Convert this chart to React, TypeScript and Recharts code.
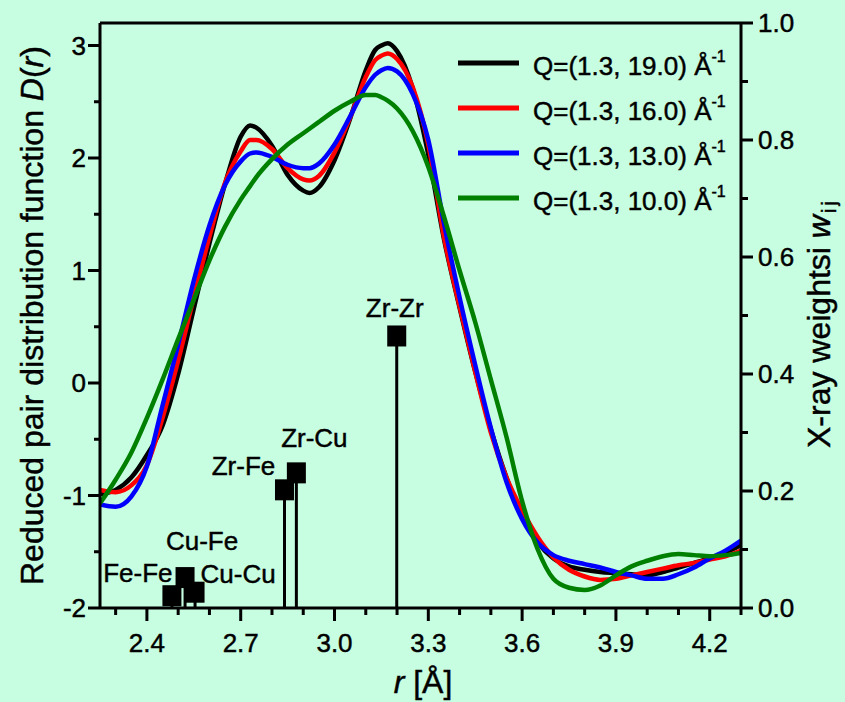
import React from 'react';
import { ComposedChart, Line, Scatter, XAxis, YAxis, ReferenceLine, ErrorBar, Legend } from 'recharts';

// ---------- data ----------
const rValues = [2.25, 2.30, 2.35, 2.40, 2.45, 2.50, 2.55, 2.60, 2.65, 2.70, 2.73, 2.75, 2.80, 2.85, 2.90, 2.92, 2.95, 3.00, 3.05, 3.10, 3.13, 3.15, 3.17, 3.20, 3.25, 3.30, 3.35, 3.40, 3.45, 3.50, 3.55, 3.60, 3.65, 3.70, 3.75, 3.80, 3.85, 3.90, 3.95, 4.00, 4.05, 4.10, 4.15, 4.20, 4.25, 4.30];

const dQ19 = [-0.99, -0.95, -0.84, -0.64, -0.38, 0.08, 0.66, 1.24, 1.77, 2.19, 2.29, 2.27, 2.11, 1.85, 1.71, 1.69, 1.74, 1.98, 2.35, 2.78, 2.96, 3.00, 3.02, 2.95, 2.62, 2.03, 1.28, 0.67, 0.10, -0.41, -0.84, -1.19, -1.42, -1.56, -1.63, -1.66, -1.68, -1.69, -1.70, -1.71, -1.68, -1.64, -1.60, -1.56, -1.51, -1.44];
const dQ16 = [-0.95, -0.97, -0.91, -0.73, -0.31, 0.20, 0.76, 1.30, 1.78, 2.06, 2.16, 2.16, 2.08, 1.91, 1.81, 1.80, 1.84, 2.05, 2.36, 2.72, 2.87, 2.91, 2.93, 2.88, 2.63, 2.12, 1.30, 0.68, 0.10, -0.44, -0.84, -1.13, -1.37, -1.55, -1.66, -1.72, -1.75, -1.74, -1.71, -1.68, -1.65, -1.62, -1.60, -1.57, -1.54, -1.49];
const dQ13 = [-1.08, -1.10, -1.01, -0.74, -0.20, 0.34, 0.91, 1.40, 1.76, 1.97, 2.04, 2.05, 2.01, 1.94, 1.91, 1.91, 1.95, 2.12, 2.37, 2.63, 2.74, 2.78, 2.80, 2.77, 2.57, 2.16, 1.42, 0.76, 0.16, -0.40, -0.88, -1.21, -1.42, -1.53, -1.58, -1.61, -1.64, -1.68, -1.71, -1.74, -1.74, -1.70, -1.64, -1.56, -1.49, -1.40];
const dQ10 = [-1.07, -0.86, -0.62, -0.31, 0.03, 0.39, 0.74, 1.09, 1.39, 1.63, 1.75, 1.83, 1.99, 2.12, 2.22, 2.26, 2.32, 2.42, 2.50, 2.56, 2.56, 2.54, 2.51, 2.44, 2.24, 1.92, 1.48, 1.00, 0.54, 0.03, -0.48, -1.05, -1.48, -1.74, -1.82, -1.84, -1.80, -1.71, -1.63, -1.58, -1.54, -1.52, -1.53, -1.54, -1.53, -1.51];

const seriesKeys = ['q19', 'q16', 'q13', 'q10'];
const seriesLabels = ['Q=(1.3, 19.0) Å', 'Q=(1.3, 16.0) Å', 'Q=(1.3, 13.0) Å', 'Q=(1.3, 10.0) Å'];
const seriesColors = ['#000000', '#FF0000', '#0000FF', '#008000'];

const pairNames = ['Fe-Fe', 'Cu-Fe', 'Cu-Cu', 'Zr-Fe', 'Zr-Cu', 'Zr-Zr'];
const pairR = [2.48, 2.522, 2.554, 2.84, 2.878, 3.199];
const pairW = [0.021, 0.052, 0.027, 0.202, 0.231, 0.465];

const xMajorTicks = [2.4, 2.7, 3.0, 3.3, 3.6, 3.9, 4.2];
const xMinorTicks = [2.3, 2.5, 2.6, 2.8, 2.9, 3.1, 3.2, 3.4, 3.5, 3.7, 3.8, 4.0, 4.1, 4.3];
const yLeftMajorTicks = [-2, -1, 0, 1, 2, 3];
const yLeftMinorTicks = [-1.5, -0.5, 0.5, 1.5, 2.5];
const yRightMajorTicks = [0, 0.2, 0.4, 0.6, 0.8, 1.0];
const yRightMinorTicks = [0.1, 0.3, 0.5, 0.7, 0.9];

// ---------- derived tables ----------
const curveData = rValues.map((r, i) => ({ r, q19: dQ19[i], q16: dQ16[i], q13: dQ13[i], q10: dQ10[i] }));
const pairData = pairNames.map((name, i) => ({ name, r: pairR[i], w: pairW[i], err: [pairW[i], 0] }));

// ---------- styling ----------
const FONT = '"Liberation Sans", Arial, Helvetica, sans-serif';
const BG = '#C7FDE1';
const TXT = { fontFamily: FONT, fill: '#000', stroke: '#000', strokeWidth: 0.45 };
const labelOffsets: Record<string, { dx: number; dy: number }> = {
  'Fe-Fe': { dx: -34, dy: -14 },
  'Cu-Fe': { dx: 17, dy: -28 },
  'Cu-Cu': { dx: 43, dy: -9 },
  'Zr-Fe': { dx: -41, dy: -15 },
  'Zr-Cu': { dx: 18, dy: -26 },
  'Zr-Zr': { dx: -2, dy: -19 },
};

const isIn = (arr: number[], v: number) => arr.some((a) => Math.abs(a - v) < 1e-6);

const XTick = (props: any) => {
  const { x, y, payload } = props;
  const v = payload.value;
  const major = isIn(xMajorTicks, v);
  return (
    <g>
      <line x1={x} x2={x} y1={y} y2={y + (major ? 13 : 7)} stroke="#000" strokeWidth={3} />
      {major && (
        <text x={x} y={y + 44} textAnchor="middle" fontSize={26} {...TXT}>
          {v.toFixed(1)}
        </text>
      )}
    </g>
  );
};

const YLeftTick = (props: any) => {
  const { x, y, payload } = props;
  const v = payload.value;
  const major = isIn(yLeftMajorTicks, v);
  return (
    <g>
      <line x1={x} x2={x - (major ? 12 : 6)} y1={y} y2={y} stroke="#000" strokeWidth={3} />
      {major && (
        <text x={x - 14} y={y + 9} textAnchor="end" fontSize={26} {...TXT}>
          {String(Math.round(v))}
        </text>
      )}
    </g>
  );
};

const YRightTick = (props: any) => {
  const { x, y, payload } = props;
  const v = payload.value;
  const major = isIn(yRightMajorTicks, v);
  return (
    <g>
      <line x1={x} x2={x + (major ? 12 : 7)} y1={y} y2={y} stroke="#000" strokeWidth={3} />
      {major && (
        <text x={x + 17} y={y + 9} textAnchor="start" fontSize={26} {...TXT}>
          {v.toFixed(1)}
        </text>
      )}
    </g>
  );
};

const PairShape = (props: any) => {
  const { cx, cy, payload } = props;
  const off = labelOffsets[payload.name] || { dx: 0, dy: -20 };
  return (
    <g>
      <rect x={cx - 9.5} y={cy - 10.5} width={19} height={21} fill="#000" />
      <text x={cx + off.dx} y={cy + off.dy} textAnchor="middle" fontSize={26} {...TXT}>
        {payload.name}
      </text>
    </g>
  );
};

const renderLegend = () => (
  <svg width={330} height={190} style={{ display: 'block' }}>
    {seriesLabels.map((lab, i) => {
      const y = 23 + i * 45;
      return (
        <g key={lab}>
          <line x1={18} x2={79} y1={y} y2={y} stroke={seriesColors[i]} strokeWidth={5} />
          <text x={93} y={y + 12} fontSize={26} {...TXT}>
            {lab}
            <tspan fontSize={16} dy={-13}>-1</tspan>
          </text>
        </g>
      );
    })}
  </svg>
);

const XTitle = () => (
  <text x={423} y={693} textAnchor="middle" fontSize={32} {...TXT}>
    <tspan fontStyle="italic">r</tspan> [Å]
  </text>
);

const YLeftTitle = () => (
  <text x={43} y={585} transform="rotate(-90 43 585)" textAnchor="start" fontSize={32} {...TXT}>
    Reduced pair distribution function <tspan fontStyle="italic">D</tspan>(<tspan fontStyle="italic">r</tspan>)
  </text>
);

const YRightTitle = () => (
  <text x={830} y={448} transform="rotate(-90 830 448)" textAnchor="start" fontSize={32} {...TXT}>
    X-ray weightsi <tspan fontStyle="italic">w</tspan>
    <tspan fontSize={20} dy={6} dx={2} letterSpacing={3}>ij</tspan>
  </text>
);

export default function App() {
  return (
    <div style={{ position: 'absolute', left: 0, top: 0, width: 845, height: 702, background: BG, overflow: 'hidden' }}>
      <ComposedChart
        width={845}
        height={702}
        data={curveData}
        margin={{ top: 23, right: 0, bottom: 0, left: 0 }}
      >
        <XAxis
          dataKey="r"
          type="number"
          domain={[2.25, 4.3]}
          allowDataOverflow
          ticks={[...xMajorTicks, ...xMinorTicks].sort((a, b) => a - b)}
          interval={0}
          height={94}
          tickSize={0}
          tickMargin={0}
          tickLine={false}
          tick={<XTick />}
          axisLine={{ stroke: '#000', strokeWidth: 3 }}
          label={XTitle}
        />
        <YAxis
          yAxisId="left"
          orientation="left"
          type="number"
          domain={[-2, 3.2]}
          allowDataOverflow
          ticks={[...yLeftMajorTicks, ...yLeftMinorTicks].sort((a, b) => a - b)}
          interval={0}
          width={100}
          tickSize={0}
          tickMargin={0}
          tickLine={false}
          tick={<YLeftTick />}
          axisLine={{ stroke: '#000', strokeWidth: 3 }}
          label={YLeftTitle}
        />
        <YAxis
          yAxisId="right"
          orientation="right"
          type="number"
          domain={[0, 1]}
          allowDataOverflow
          ticks={[...yRightMajorTicks, ...yRightMinorTicks].sort((a, b) => a - b)}
          interval={0}
          width={104}
          tickSize={0}
          tickMargin={0}
          tickLine={false}
          tick={<YRightTick />}
          axisLine={{ stroke: '#000', strokeWidth: 3 }}
          label={YRightTitle}
        />
        <ReferenceLine yAxisId="left" y={3.2} stroke="#000" strokeWidth={3} ifOverflow="visible" />
        <Scatter
          yAxisId="right"
          data={pairData}
          dataKey="w"
          shape={PairShape}
          isAnimationActive={false}
          legendType="none"
        >
          <ErrorBar dataKey="err" direction="y" width={0} stroke="#000" strokeWidth={3} />
        </Scatter>
        {seriesKeys.map((k, i) => (
          <Line
            key={k}
            yAxisId="left"
            type="monotone"
            dataKey={k}
            stroke={seriesColors[i]}
            strokeWidth={4.5}
            dot={false}
            activeDot={false}
            isAnimationActive={false}
          />
        ))}
        <Legend
          layout="vertical"
          align="center"
          verticalAlign="middle"
          content={renderLegend}
          wrapperStyle={{ position: 'absolute', left: 440, top: 40, width: 330, height: 190 }}
        />
      </ComposedChart>
    </div>
  );
}
